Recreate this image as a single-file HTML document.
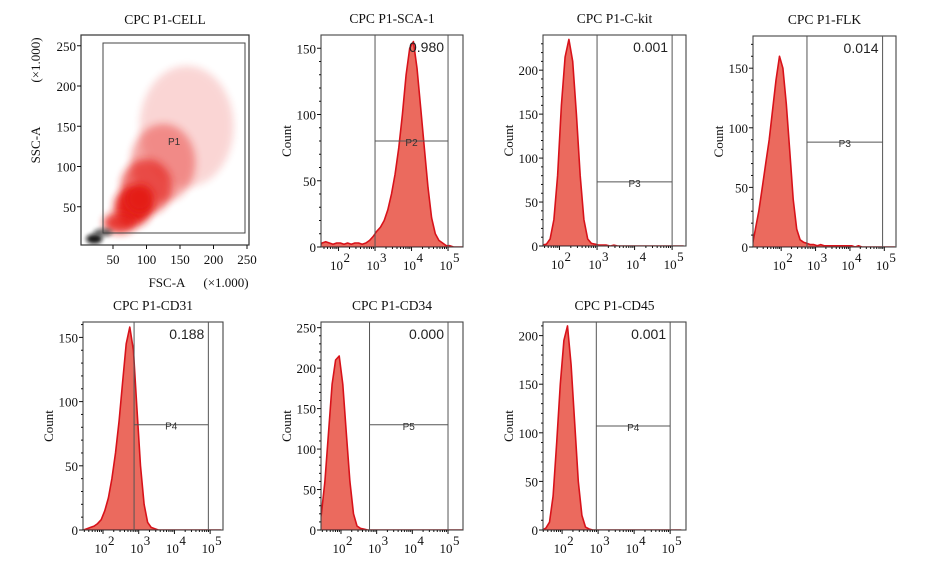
<!DOCTYPE html>
<html><head><meta charset="utf-8">
<style>
html,body{margin:0;padding:0;background:#fff;}
svg{display:block;font-family:"Liberation Serif",serif;}
.tk{font-size:13px;fill:#111;}
.ttl{font-size:13.5px;fill:#111;}
.num{font-family:"Liberation Sans",sans-serif;font-size:14px;fill:#222;}
.gl{font-family:"Liberation Sans",sans-serif;font-size:10px;fill:#333;}
</style></head>
<body>
<svg id="fig" width="929" height="575" viewBox="0 0 929 575">
<defs>
<filter id="blur" x="-50%" y="-50%" width="200%" height="200%"><feGaussianBlur stdDeviation="4"/></filter>
<filter id="blur2" x="-50%" y="-50%" width="200%" height="200%"><feGaussianBlur stdDeviation="2"/></filter>
</defs>
</svg>
<script>
// ---------- data ----------
const panelTitles = ["CPC P1-SCA-1","CPC P1-C-kit","CPC P1-FLK","CPC P1-CD31","CPC P1-CD34","CPC P1-CD45"];
const gateFractions = ["0.980","0.001","0.014","0.188","0.000","0.001"];
const gateNames = ["P2","P3","P3","P4","P5","P4"];
const binStarts = [1.5,1.5,1.2,1.5,1.4,1.5];
const countsSCA1 = [3,4,3,2,3,3,2,3,2,3,3,2,3,5,8,12,15,20,28,40,55,75,100,130,150,155,135,105,75,45,22,10,5,3,1,1,0,0,0,0];
const countsCkit = [1,2,8,30,80,160,215,235,210,150,80,30,8,3,2,1,1,1,0,1,0,0,0,0,0,0,0,0,0,0,0,0,0,0,0,0,0,0];
const countsFLK  = [15,30,50,70,90,115,140,160,150,120,80,40,15,6,4,3,2,2,1,2,1,1,1,1,1,1,1,1,1,0,1,0,0,0,0,0,0,0,0,0,0];
const countsCD31 = [1,2,3,5,8,15,25,40,60,85,115,145,158,140,95,50,20,6,2,1,0,0,0,0,0,0,0,0,0,0,0,0,0,0,0,0,0,0];
const countsCD34 = [20,60,120,180,210,215,180,120,60,20,5,2,1,0,0,0,0,0,0,0,0,0,0,0,0,0,0,0,0,0,0,0,0,0,0,0,0,0,0,0];
const countsCD45 = [2,8,35,90,150,195,210,170,110,50,15,3,1,0,0,0,0,0,0,0,0,0,0,0,0,0,0,0,0,0,0,0,0,0,0,0,0,0];
const yTicksSets = [[0,50,100,150],[0,50,100,150,200],[0,50,100,150],[0,50,100,150],[0,50,100,150,200,250],[0,50,100,150,200]];
const xTickDecades = [2,3,4,5];
const gateLow = [3.0,3.0,2.75,2.87,2.8,2.95];
const gateHigh = [5.0,5.0,4.95,4.95,5.0,5.0];
const gateLevel = [80,73,88,82,130,107];
// scatter density clusters: [fsc, ssc, rxFsc, rySsc, opacity]
const scatterRed = [[160,150,70,75,0.18],[125,105,48,48,0.4],[100,75,38,34,0.65],[80,50,28,24,0.95],[60,30,24,13,0.85],[90,60,20,17,1]];
const scatterBlack = [[22,10,12,6,0.95],[35,18,14,5,0.6]];
const scatterXTicks = [50,100,150,200,250];
const scatterYTicks = [50,100,150,200,250];
const geo = [
 {l:321,r:463,t:35,b:247,lmin:1.52,lmax:5.41,ymax:160,counts:countsSCA1},
 {l:543,r:686,t:35,b:246,lmin:1.56,lmax:5.37,ymax:240,counts:countsCkit},
 {l:753,r:896,t:36,b:247,lmin:1.18,lmax:5.34,ymax:177,counts:countsFLK},
 {l:83,r:223,t:322,b:530,lmin:1.44,lmax:5.36,ymax:162,counts:countsCD31},
 {l:321,r:463,t:322,b:530,lmin:1.44,lmax:5.42,ymax:257,counts:countsCD34},
 {l:543,r:686,t:322,b:530,lmin:1.47,lmax:5.44,ymax:214,counts:countsCD45}
];
const NS="http://www.w3.org/2000/svg";
const svg=document.getElementById('fig');
function mk(tag,attrs,parent){const e=document.createElementNS(NS,tag);for(const k in attrs)e.setAttribute(k,attrs[k]);(parent||svg).appendChild(e);return e;}

// ---------- scatter panel ----------
(function(){
 const L=81,R=249,T=35,B=245;
 const sx=v=>79.5+v*0.67, sy=v=>247-v*0.805;
 const g=mk('g',{});
 
 
 const tt=mk('text',{x:165,y:24,'text-anchor':'middle',class:'ttl'},g);tt.textContent='CPC P1-CELL';
 
 const clip=mk('clipPath',{id:'sc'},g);mk('rect',{x:L,y:T,width:R-L,height:B-T},clip);
 const dg=mk('g',{'clip-path':'url(#sc)'},g);
 scatterRed.forEach(c=>{const e=mk('ellipse',{cx:sx(c[0]),cy:sy(c[1]),rx:c[2]*0.67,ry:c[3]*0.805,fill:'#e41a14',opacity:c[4],filter:'url(#blur)'},dg);
  });
 scatterBlack.forEach(c=>{const e=mk('ellipse',{cx:sx(c[0]),cy:sy(c[1]),rx:c[2]*0.67,ry:c[3]*0.805,fill:'#111',opacity:c[4],filter:'url(#blur2)'},dg);
  });
 mk('rect',{x:L,y:T,width:R-L,height:B-T,fill:'none',stroke:'#333','stroke-width':1.2},g);
 const gate=mk('rect',{x:103,y:43,width:142,height:190,fill:'none',stroke:'#444','stroke-width':1},g);
 
 const p1=mk('text',{x:168,y:145,class:'gl'},g);p1.textContent='P1';
 scatterXTicks.forEach(v=>{mk('line',{x1:sx(v),x2:sx(v),y1:B,y2:B+4,stroke:'#111'},g);
  const t=mk('text',{x:sx(v),y:B+19,'text-anchor':'middle',class:'tk'},g);t.textContent=v;
  });
 scatterYTicks.forEach(v=>{mk('line',{x1:L-4,x2:L,y1:sy(v),y2:sy(v),stroke:'#111'},g);
  const t=mk('text',{x:L-5,y:sy(v)+5,'text-anchor':'end',class:'tk'},g);t.textContent=v;
  });
 const xl=mk('text',{x:167,y:287,'text-anchor':'middle',class:'tk','font-size':14},g);xl.textContent='FSC-A';
 
 const xu=mk('text',{x:226,y:287,'text-anchor':'middle',class:'tk'},g);xu.textContent='(×1.000)';
 const yl=mk('text',{x:0,y:0,transform:'translate(40,145) rotate(-90)','text-anchor':'middle',class:'tk','font-size':14},g);yl.textContent='SSC-A';
 
 const yu=mk('text',{x:0,y:0,transform:'translate(40,60) rotate(-90)','text-anchor':'middle',class:'tk'},g);yu.textContent='(×1.000)';
})();

// ---------- histogram panels ----------
geo.forEach((p,i)=>{
 const sx=v=>p.l+(v-p.lmin)/(p.lmax-p.lmin)*(p.r-p.l);
 const sy=v=>p.b-v/p.ymax*(p.b-p.t);
 const g=mk('g',{});
 
 
 const tt=mk('text',{x:(p.l+p.r)/2,y:p.t-12,'text-anchor':'middle',class:'ttl'},g);tt.textContent=panelTitles[i];
 
 const cid='hc'+i;const clip=mk('clipPath',{id:cid},g);mk('rect',{x:p.l,y:p.t,width:p.r-p.l,height:p.b-p.t},clip);
 let d='M'+sx(binStarts[i]-0.05).toFixed(1)+','+p.b;
 p.counts.forEach((c,k)=>{const x=binStarts[i]+k*0.1+0.05;d+=' L'+sx(x).toFixed(1)+','+sy(c).toFixed(1);});
 d+=' L'+sx(binStarts[i]+p.counts.length*0.1).toFixed(1)+','+p.b+' Z';
 const h=mk('path',{d:d,fill:'#eb6a5e',stroke:'#d8121a','stroke-width':1.6,'stroke-linejoin':'round','clip-path':'url(#'+cid+')'},g);
 
 mk('rect',{x:p.l,y:p.t,width:p.r-p.l,height:p.b-p.t,fill:'none',stroke:'#444','stroke-width':1.1},g);
 const x1=sx(gateLow[i]),x2=sx(gateHigh[i]);
 const gg=mk('g',{stroke:'#555','stroke-width':1},g);
 
 mk('line',{x1:x1,x2:x1,y1:p.t,y2:p.b},gg);mk('line',{x1:x2,x2:x2,y1:p.t,y2:p.b},gg);
 mk('line',{x1:x1,x2:x2,y1:sy(gateLevel[i]),y2:sy(gateLevel[i])},gg);
 const gn=mk('text',{x:(x1+x2)/2,y:sy(gateLevel[i])+5,'text-anchor':'middle',class:'gl'},g);gn.textContent=gateNames[i];
 
 const fr=mk('text',{x:x2-4,y:p.t+17,'text-anchor':'end',class:'num'},g);fr.textContent=gateFractions[i];
 
 yTicksSets[i].forEach(v=>{mk('line',{x1:p.l-4,x2:p.l,y1:sy(v),y2:sy(v),stroke:'#111'},g);
  const t=mk('text',{x:p.l-5,y:sy(v)+5,'text-anchor':'end',class:'tk'},g);t.textContent=v;
  
  for(let m=1;m<5;m++){const vv=v+m*10;if(vv<p.ymax)mk('line',{x1:p.l-2,x2:p.l,y1:sy(vv),y2:sy(vv),stroke:'#111'},g);}});
 xTickDecades.forEach(dd=>{const x=sx(dd);mk('line',{x1:x,x2:x,y1:p.b,y2:p.b+4,stroke:'#111'},g);
  for(let m=2;m<10;m++){const xm=sx(dd-1+Math.log10(m));if(xm>p.l)mk('line',{x1:xm,x2:xm,y1:p.b,y2:p.b+2,stroke:'#111'},g);}
  const t=mk('text',{x:x-2,y:p.b+23,'text-anchor':'middle',class:'tk'},g);t.textContent='10';
  
  const s=mk('text',{x:x+5,y:p.b+15,'font-size':8,class:'tk'},g);s.textContent=dd;});
 const yl=mk('text',{x:0,y:0,transform:'translate('+(p.l-30)+','+((p.t+p.b)/2)+') rotate(-90)','text-anchor':'middle',class:'tk','font-size':14},g);yl.textContent='Count';
 
});
</script>
</body></html>
